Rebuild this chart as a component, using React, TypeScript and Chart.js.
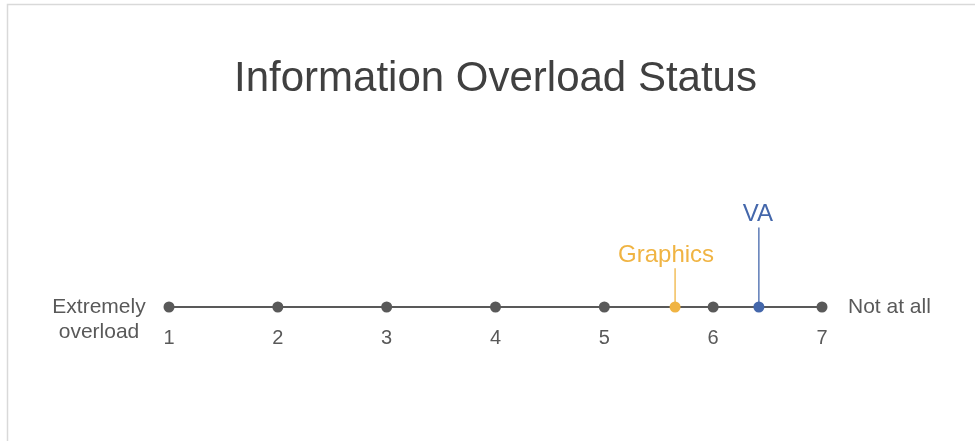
import { useEffect, useRef } from "react";
import { Chart, registerables } from "chart.js";

Chart.register(...registerables);

const chartTitle = "Information Overload Status";
const scalePoints = [1, 2, 3, 4, 5, 6, 7];
const tickLabels = ["1", "2", "3", "4", "5", "6", "7"];
const groupNames = ["Graphics", "VA"];
const groupValues = [5.65, 6.42];
const stemHeights = [0.212, 0.435];
const groupColors = ["#F0B443", "#4467AB"];
const leftLabel = ["Extremely", "overload"];
const rightLabel = ["Not at all"];

const FONT = "'Liberation Sans', Arial, Helvetica, sans-serif";
const GRAY = "#595959";
const LABEL_SHIFT = [-9, -1];

const annotate = {
  id: "annotate",
  beforeDraw(chart: any) {
    const { ctx, width, height } = chart;
    ctx.save();
    ctx.fillStyle = "#ffffff";
    ctx.fillRect(0, 0, width, height);
    ctx.strokeStyle = "#d9d9d9";
    ctx.lineWidth = 1.5;
    ctx.beginPath();
    ctx.moveTo(7.5, height);
    ctx.lineTo(7.5, 4.5);
    ctx.lineTo(width, 4.5);
    ctx.stroke();
    ctx.restore();
  },
  afterDatasetsDraw(chart: any) {
    const { ctx, chartArea } = chart;
    const xs = chart.scales.x;
    const ys = chart.scales.y;
    const y0 = ys.getPixelForValue(0);
    ctx.save();
    ctx.font = `21px ${FONT}`;
    ctx.fillStyle = GRAY;
    ctx.textAlign = "center";
    ctx.textBaseline = "middle";
    leftLabel.forEach((t, i) => ctx.fillText(t, chartArea.left - 70, y0 + i * 25));
    ctx.textAlign = "left";
    rightLabel.forEach((t, i) => ctx.fillText(t, chartArea.right + 26, y0 + i * 25));
    ctx.font = `24px ${FONT}`;
    ctx.textAlign = "center";
    ctx.textBaseline = "alphabetic";
    groupNames.forEach((n, i) => {
      ctx.fillStyle = groupColors[i];
      ctx.fillText(
        n,
        xs.getPixelForValue(groupValues[i]) + LABEL_SHIFT[i],
        ys.getPixelForValue(stemHeights[i]) - 6.5
      );
    });
    ctx.restore();
  },
};

export default function App() {
  const ref = useRef<HTMLCanvasElement | null>(null);
  useEffect(() => {
    if (!ref.current) return;
    const chart = new Chart(ref.current, {
      type: "scatter",
      data: {
        datasets: [
          ...groupNames.map((n, i) => ({
            label: n,
            data: [
              { x: groupValues[i], y: 0 },
              { x: groupValues[i], y: stemHeights[i] },
            ],
            showLine: true,
            borderColor: groupColors[i],
            backgroundColor: groupColors[i],
            borderWidth: 1.3,
            pointRadius: [5.5, 0],
            pointBorderWidth: 0,
            pointHoverRadius: [5.5, 0],
            clip: false as any,
          })),
          {
            label: "scale",
            data: scalePoints.map((v) => ({ x: v, y: 0 })),
            showLine: true,
            borderColor: GRAY,
            backgroundColor: GRAY,
            borderWidth: 2.2,
            pointRadius: 5.5,
            pointBorderWidth: 0,
            pointHoverRadius: 5.5,
            clip: false as any,
          },
        ],
      },
      options: {
        responsive: false,
        animation: false,
        devicePixelRatio: 1,
        events: [],
        layout: { padding: { left: 169, right: 153, top: 0, bottom: 72 } },
        plugins: {
          legend: { display: false },
          tooltip: { enabled: false },
          title: {
            display: true,
            text: chartTitle,
            color: "#404040",
            font: { size: 42, family: FONT, weight: "normal" as any },
            padding: { top: 54, bottom: 20 },
          },
        },
        scales: {
          x: {
            type: "linear",
            min: 1,
            max: 7,
            afterBuildTicks: (s: any) => {
              s.ticks = scalePoints.map((v) => ({ value: v }));
            },
            ticks: {
              color: GRAY,
              font: { size: 20, family: FONT },
              padding: 19,
              autoSkip: false,
              maxRotation: 0,
              callback: (v: any) => tickLabels[scalePoints.indexOf(Number(v))] ?? "",
            },
            grid: { display: false, drawTicks: false },
            border: { display: false },
          },
          y: {
            display: false,
            min: 0,
            max: 1,
          },
        },
      },
      plugins: [annotate],
    });
    return () => chart.destroy();
  }, []);
  return (
    <div style={{ position: "fixed", left: 0, top: 0, width: 975, height: 441, background: "#fff" }}>
      <canvas ref={ref} width={975} height={441} />
    </div>
  );
}
